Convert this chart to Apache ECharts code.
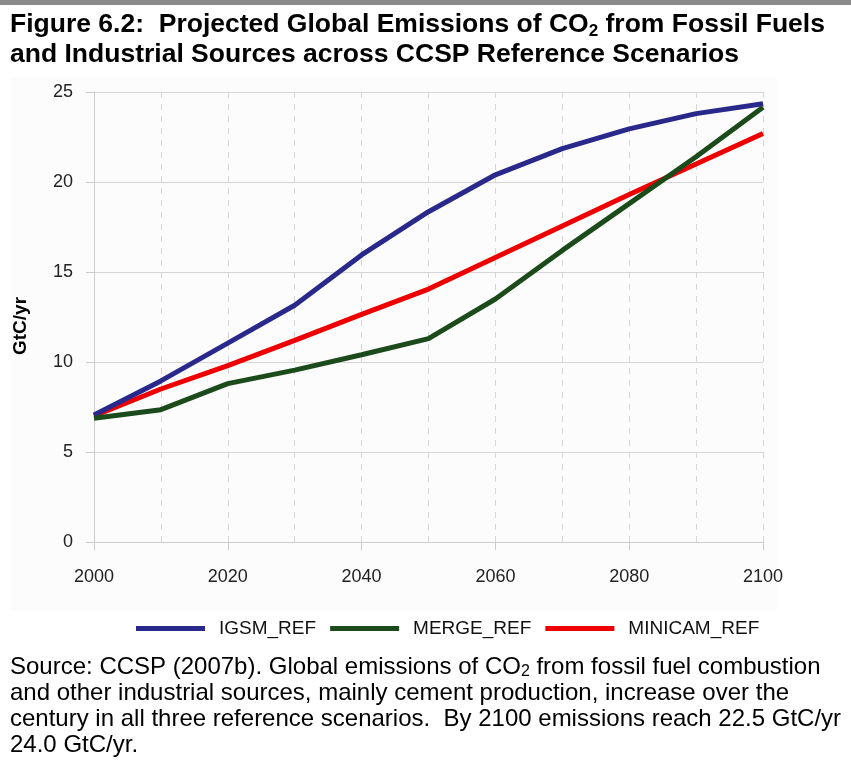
<!DOCTYPE html>
<html>
<head>
<meta charset="utf-8">
<script src="https://cdn.jsdelivr.net/npm/echarts@6/dist/echarts.min.js"></script>
<style>
html,body{margin:0;padding:0;background:#fff;}
#chart{width:851px;height:761px;}
</style>
</head>
<body>
<div id="chart"></div>
<script>
var years = [2000, 2010, 2020, 2030, 2040, 2050, 2060, 2070, 2080, 2090, 2100];
var igsm = [7.05, 8.95, 11.05, 13.15, 15.95, 18.35, 20.4, 21.85, 22.95, 23.8, 24.35];
var merge = [6.87, 7.35, 8.8, 9.55, 10.4, 11.3, 13.5, 16.2, 18.8, 21.4, 24.15];
var minicam = [7.0, 8.5, 9.8, 11.2, 12.65, 14.05, 15.8, 17.55, 19.3, 21.0, 22.7];
var seriesNames = ['IGSM_REF', 'MERGE_REF', 'MINICAM_REF'];
var yTicks = [0, 5, 10, 15, 20, 25];

function pairs(v){ return years.map(function(y,i){ return [y, v[i]]; }); }

var FONT = '"Liberation Sans", Arial, sans-serif';
var chart = echarts.init(document.getElementById('chart'), null, {renderer:'canvas'});
var colors = ['#29298c', '#1b4a1b', '#ee0000'];

chart.setOption({
  animation: false,
  backgroundColor: '#ffffff',
  textStyle: {fontFamily: FONT},
  graphic: [
    {type:'rect', shape:{x:0,y:0,width:851,height:5}, style:{fill:'#8a8a8a'}, z:-10},
    {type:'rect', shape:{x:11,y:78,width:767,height:532}, style:{fill:'#fcfcfc'}, z:-10},
    {type:'text', left:10, top:11, style:{
      text:'{a|Figure 6.2:  Projected Global Emissions of CO}{s|2}{a| from Fossil Fuels}\n{a|and Industrial Sources across CCSP Reference Scenarios}',
      rich:{
        a:{fontFamily:FONT, fontWeight:'bold', fontSize:26.5, lineHeight:30, fill:'#000'},
        s:{fontFamily:FONT, fontWeight:'bold', fontSize:17, lineHeight:17, verticalAlign:'bottom', fill:'#000'}
      }
    }},
    {type:'text', left:10, top:655, style:{
      text:'{a|Source: CCSP (2007b). Global emissions of CO}{s|2}{a| from fossil fuel combustion}\n{a|and other industrial sources, mainly cement production, increase over the}\n{a|century in all three reference scenarios.  By 2100 emissions reach 22.5 GtC/yr}\n{a|24.0 GtC/yr.}',
      rich:{
        a:{fontFamily:FONT, fontSize:24, lineHeight:26, fill:'#000'},
        s:{fontFamily:FONT, fontSize:16, lineHeight:16, verticalAlign:'bottom', fill:'#000'}
      }
    }}
  ],
  grid: {left:94, right:88, top:92, bottom:219, containLabel:false},
  legend: {
    data: seriesNames,
    left: 131, top: 614,
    icon: 'rect',
    itemWidth: 69, itemHeight: 5, itemGap: 14,
    textStyle: {fontFamily:FONT, fontSize:19, color:'#111', padding:[0,0,0,9]}
  },
  xAxis: {
    type:'value', min:2000, max:2100, interval:20,
    axisLine:{show:true, lineStyle:{color:'#cccccc', width:1}},
    axisTick:{show:true, length:8, lineStyle:{color:'#cccccc'}},
    axisLabel:{margin:26, fontFamily:FONT, fontSize:18, color:'#222', formatter:function(v){return String(v);}},
    splitLine:{show:true, lineStyle:{color:'#d6d6d6', type:[6,6], width:1}},
    minorTick:{show:false, splitNumber:2},
    minorSplitLine:{show:true, lineStyle:{color:'#d6d6d6', type:[6,6], width:1}}
  },
  yAxis: {
    type:'value', min:0, max:25, interval:5,
    name:'GtC/yr', nameLocation:'middle', nameGap:64,
    nameTextStyle:{fontFamily:FONT, fontWeight:'bold', fontSize:19, color:'#000', padding:[0,0,0,-18]},
    axisLine:{show:true, lineStyle:{color:'#cccccc', width:1}},
    axisTick:{show:true, length:8, lineStyle:{color:'#cccccc'}},
    axisLabel:{margin:21, fontFamily:FONT, fontSize:18, color:'#222'},
    splitLine:{show:true, lineStyle:{color:'#d6d6d6', width:1}}
  },
  series: [
    {name:seriesNames[0], type:'line', data:pairs(igsm), showSymbol:false, lineStyle:{width:5, color:colors[0]}, itemStyle:{color:colors[0]}, z:3},
    {name:seriesNames[1], type:'line', data:pairs(merge), showSymbol:false, lineStyle:{width:5, color:colors[1]}, itemStyle:{color:colors[1]}, z:4},
    {name:seriesNames[2], type:'line', data:pairs(minicam), showSymbol:false, lineStyle:{width:5, color:colors[2]}, itemStyle:{color:colors[2]}, z:2}
  ]
});
</script>
</body>
</html>
